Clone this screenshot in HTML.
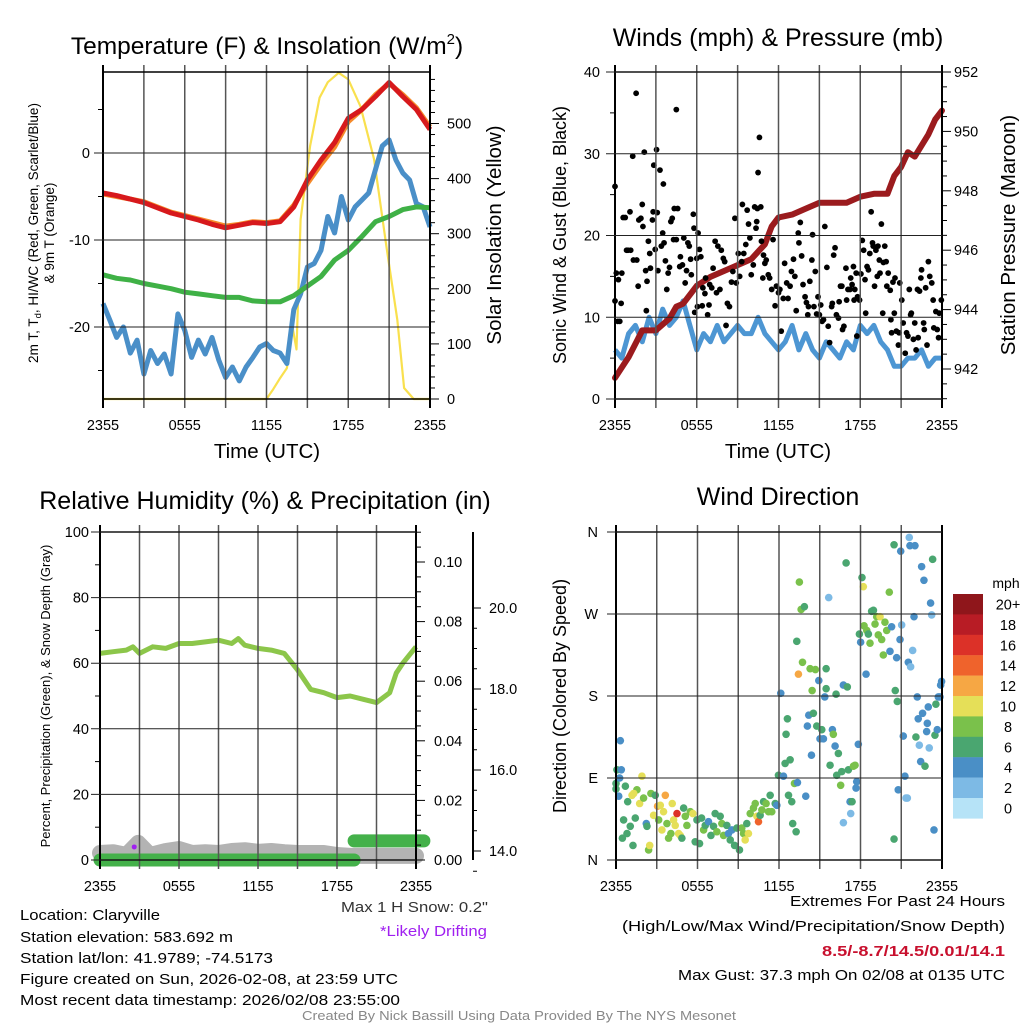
<!DOCTYPE html>
<html><head><meta charset="utf-8">
<style>
html,body{margin:0;padding:0;background:#fff;}
svg{display:block;font-family:"Liberation Sans",sans-serif;}
</style></head>
<body>
<svg id="chart" width="1024" height="1024" viewBox="0 0 1024 1024" xmlns="http://www.w3.org/2000/svg">
<rect x="0" y="0" width="1024" height="1024" fill="#fff"/>
<g id="layer-data"></g>
<g id="layer-axes"></g>
<g id="layer-text">
<text x="267" y="54" font-size="24.5" text-anchor="middle">Temperature (F) &amp; Insolation (W/m<tspan font-size="15" dy="-10">2</tspan><tspan dy="10">)</tspan></text>
<text x="778" y="46" font-size="25" text-anchor="middle">Winds (mph) &amp; Pressure (mb)</text>
<text x="265" y="509" font-size="25" text-anchor="middle">Relative Humidity (%) &amp; Precipitation (in)</text>
<text x="778" y="505" font-size="25" text-anchor="middle">Wind Direction</text>
<text x="267" y="458" font-size="20.5" text-anchor="middle">Time (UTC)</text>
<text x="778" y="458" font-size="20.5" text-anchor="middle">Time (UTC)</text>
<text transform="translate(38,233) rotate(-90)" font-size="13.5" text-anchor="middle">2m T, T<tspan font-size="9.5" dy="3">d</tspan><tspan dy="-3">, HI/WC (Red, Green, Scarlet/Blue)</tspan></text>
<text transform="translate(54,233) rotate(-90)" font-size="13.5" text-anchor="middle">&amp; 9m T (Orange)</text>
<text transform="translate(501,235) rotate(-90)" font-size="20.5" text-anchor="middle">Solar Insolation (Yellow)</text>
<text transform="translate(566,235) rotate(-90)" font-size="18" text-anchor="middle">Sonic Wind &amp; Gust (Blue, Black)</text>
<text transform="translate(1015,235) rotate(-90)" font-size="20.5" text-anchor="middle">Station Pressure (Maroon)</text>
<text transform="translate(50,696) rotate(-90)" font-size="13" text-anchor="middle">Percent, Precipitation (Green), &amp; Snow Depth (Gray)</text>
<text transform="translate(566,696) rotate(-90)" font-size="18" text-anchor="middle">Direction (Colored By Speed)</text>
<text x="1006" y="588" font-size="14" text-anchor="middle">mph</text>
<text x="20" y="920" font-size="15" textLength="140" lengthAdjust="spacingAndGlyphs">Location: Claryville</text>
<text x="20" y="942" font-size="15" textLength="213" lengthAdjust="spacingAndGlyphs">Station elevation: 583.692 m</text>
<text x="20" y="963" font-size="15" textLength="253" lengthAdjust="spacingAndGlyphs">Station lat/lon: 41.9789; -74.5173</text>
<text x="20" y="984" font-size="15" textLength="378" lengthAdjust="spacingAndGlyphs">Figure created on Sun, 2026-02-08, at 23:59 UTC</text>
<text x="20" y="1005" font-size="15" textLength="380" lengthAdjust="spacingAndGlyphs">Most recent data timestamp: 2026/02/08 23:55:00</text>
<text x="341" y="912" font-size="15" fill="#333" textLength="147" lengthAdjust="spacingAndGlyphs">Max 1 H Snow: 0.2"</text>
<text x="380" y="936" font-size="15" fill="#a020f0" textLength="107" lengthAdjust="spacingAndGlyphs">*Likely Drifting</text>
<text x="790" y="906" font-size="15" textLength="215" lengthAdjust="spacingAndGlyphs">Extremes For Past 24 Hours</text>
<text x="622" y="931" font-size="15" textLength="383" lengthAdjust="spacingAndGlyphs">(High/Low/Max Wind/Precipitation/Snow Depth)</text>
<text x="822" y="956" font-size="15" font-weight="bold" fill="#c8102e" textLength="183" lengthAdjust="spacingAndGlyphs">8.5/-8.7/14.5/0.01/14.1</text>
<text x="678" y="980" font-size="15" textLength="327" lengthAdjust="spacingAndGlyphs">Max Gust: 37.3 mph On 02/08 at 0135 UTC</text>
<text x="302" y="1020" font-size="12.5" fill="#888" textLength="434" lengthAdjust="spacingAndGlyphs">Created By Nick Bassill Using Data Provided By The NYS Mesonet</text>
</g>
</svg>
<script>
// ---------- DATA ----------
const hourT = [0,1,2,3,4,5,6,7,8,9,10,11,12,13,14,15,16,17,18,19,20,21,22,23,24];
const tempRed = [-4.6,-4.9,-5.3,-5.7,-6.3,-6.9,-7.3,-7.7,-8.2,-8.6,-8.3,-8.0,-8.1,-7.9,-6.2,-3.1,-0.8,1.2,4.0,5.0,6.5,8.1,6.5,5.0,2.7];
const tempOrange = [-4.7,-5.0,-5.3,-5.6,-6.2,-6.8,-7.2,-7.6,-8.0,-8.4,-8.2,-7.9,-8.0,-7.8,-6.0,-3.5,-1.3,0.7,3.6,5.0,6.7,8.0,6.7,5.2,3.0];
const tempGreen = [-14.0,-14.4,-14.6,-15.0,-15.3,-15.6,-16.0,-16.2,-16.4,-16.6,-16.6,-17.0,-17.1,-17.1,-16.4,-15.3,-14.2,-12.3,-11.2,-9.6,-7.9,-7.3,-6.5,-6.2,-6.3];
const halfT = [0,0.5,1,1.5,2,2.5,3,3.5,4,4.5,5,5.5,6,6.5,7,7.5,8,8.5,9,9.5,10,10.5,11,11.5,12,12.5,13,13.5,14,14.5,15,15.5,16,16.5,17,17.5,18,18.5,19,19.5,20,20.5,21,21.5,22,22.5,23,23.5,24];
const tempBlue = [-17.3,-19.2,-21.2,-20.0,-23.0,-21.5,-25.4,-22.7,-24.2,-23.1,-25.4,-18.5,-20.4,-23.5,-21.5,-23.1,-21.2,-23.8,-25.8,-24.6,-26.2,-24.6,-23.5,-22.3,-21.9,-22.7,-23.0,-24.2,-18.0,-16.2,-13.1,-12.7,-11.2,-7.3,-9.2,-5.0,-7.7,-6.2,-5.4,-4.6,-1.9,0.8,1.5,-0.8,-2.3,-3.1,-5.8,-6.2,-8.5];
const insolT = [0,12.0,12.5,13.0,13.5,13.9,14.2,14.5,15.2,15.9,16.5,17.3,18.0,18.9,19.9,20.8,21.6,22.1,22.8,24];
const insolV = [0,0,18,38,56,132,90,326,459,547,575,592,580,531,435,277,144,20,0,0];

const windBlue = [6,5,8,9,7,10,8,11,9,10,12,9,6,8,7,9,7,8,9,8,8,10,8,7,6,7,9,6,8,6,5,7,6,5,7,6,9,8,9,7,6,4,4,5,5,6,4,5,5];
const pressT = [0,1,2,3,4,4.5,5,6,7,8,9,10,10.5,11,11.5,12,13,14,15,16,17,18,19,20,20.5,21,21.5,22,23,23.5,24];
const pressV = [941.7,942.4,943.3,943.3,943.7,944.1,944.2,944.8,945.1,945.3,945.5,945.7,945.95,946.2,946.8,947.1,947.2,947.4,947.6,947.6,947.6,947.8,947.9,947.9,948.5,948.8,949.3,949.15,949.9,950.4,950.7];
const gustT = [0,0,0.1,0.2,0.35,0.25,0.45,0.5,0.6,0.75,0.85,0.95,1.1,1.15,1.3,1.35,1.55,1.6,1.7,1.75,1.9,2,2.05,2.15,2.25,2.3,2.35,2.45,2.55,2.6,2.75,2.8,2.85,2.95,3.05,3.1,3.15,3.3,3.4,3.5,3.55,3.6,3.7,3.8,3.9,4.0,4.1,4.2,4.35,4.3,4.5,4.5,4.6,4.75,4.8,4.95,5.05,5.15,5.25,5.35,5.45,5.55,5.6,5.75,5.8,5.85,6.0,6.05,6.1,6.2,6.3,6.4,6.45,6.6,6.65,6.8,6.9,6.95,7.1,7.2,7.35,7.45,7.55,7.7,7.8,7.95,8.05,8.15,8.25,8.4,8.55,8.65,8.8,8.9,9.05,9.15,9.3,9.35,9.45,9.6,9.7,9.8,9.9,10.0,10.15,10.25,10.35,10.4,10.45,10.5,10.6,10.7,10.75,10.85,10.9,11.0,11.1,11.25,11.35,11.5,11.6,11.75,11.85,12.0,12.1,12.2,12.35,12.45,12.6,12.7,12.85,12.95,13.1,13.2,13.3,13.45,13.5,13.6,13.7,13.8,13.95,14.05,14.15,14.2,14.3,14.45,14.5,14.6,14.7,14.8,14.9,15.0,15.1,15.2,15.3,15.4,15.55,15.65,15.75,15.9,15.95,16.05,16.15,16.25,16.4,16.45,16.55,16.65,16.7,16.8,16.95,17.0,17.1,17.25,17.3,17.4,17.5,17.55,17.6,17.7,17.75,17.8,17.95,18.05,18.15,18.25,18.35,18.4,18.5,18.6,18.7,18.8,18.9,18.95,19.05,19.15,19.25,19.3,19.4,19.45,19.55,19.65,19.7,19.8,19.9,19.95,20.05,20.2,20.25,20.3,20.4,20.5,20.55,20.65,20.8,20.85,20.9,21.05,21.15,21.3,21.4,21.5,21.6,21.7,21.75,21.9,22.0,22.1,22.2,22.25,22.35,22.45,22.5,22.65,22.7,22.8,22.9,23.0,23.1,23.25,23.35,23.4,23.55,23.65,23.75,23.8,23.95];
const gustV = [26,12,15.4,9.5,9.5,14.6,11.7,15.4,22.2,22.2,18.2,18.2,22.9,18.2,29.7,17,37.4,17,13.8,21.9,22.1,23.8,21.1,30.2,15.7,10.8,14.4,19.3,17.8,16,21.9,22.9,28.6,18.3,30.5,22.8,15.7,28,18.7,20.3,26.3,19.1,16.9,13.4,15.4,16.1,21.7,22.1,23.3,19.5,35.4,19.5,23.3,16.2,17.4,16.4,19.7,14.2,15.7,19.1,18.7,17.1,15.2,22.6,20.9,10.6,17.2,11.3,20.3,18.3,17.4,11.4,13.6,12.9,14.8,10.3,11.5,14,13.6,16,19.3,13,18.7,13.4,18.2,17.2,16.8,9,11.7,11.3,14.3,15.6,22.1,14.2,17.8,15,16.8,23.8,17.8,18.9,23.1,21.4,19.7,15.2,16.4,23.5,20.9,21.7,23.3,27.7,32,23.5,19.3,14.8,17.6,16.6,17,15.2,14.8,13.4,19.5,11.4,13.8,13,13.4,8.3,12.3,16.6,14.2,12.3,13.8,15.6,17.1,15,10.8,20.3,19.1,21.6,17.5,14,12.5,11.8,10.3,11.3,14.4,17,20.1,11.3,15.6,10.4,12.5,10.3,11.5,9.5,9.7,21.1,16.1,8.9,6.9,11.3,11.7,17.6,18.5,10.3,9.9,11.9,13.8,13.8,8.5,8.9,16,12.1,13.4,13.4,14.8,14,16.2,12.1,13.4,15.4,7.7,12.5,12.1,15.3,19.4,18.2,14.6,10.5,16.2,15.8,17.8,22.9,19.1,18.7,13.8,18.2,15,18.7,17,15.4,21.4,10.5,16.7,18.7,16.8,13.8,15.4,13.3,9.7,8.1,14.3,10.5,14.8,8.3,6.6,8.1,14.2,12.1,9.3,5.6,8.1,7.7,13.4,10.3,10.5,7.3,9.3,6,13.4,7.5,13.2,14.8,15.8,9.3,8.5,13.6,6.6,16.8,15,14.2,12.1,8.7,10.7,8.5,7.5,10.5,12.1];

const rhT = [0,1,2,2.5,3,4,5,6,7,8,9,10,10.5,11,12,13,14,15,16,17,18,19,20,21,22,22.5,23,24];
const rhV = [63,63.5,64,65,63,65,64.5,66,66,66.5,67,66,67.5,65.5,64.5,64,63,58,52,51,49.5,50,49,48,51,57,60,65];
const precipT = [0,19.3,19.3,24.6];
const precipV = [0,0,0.0064,0.0064];
const snowT = [0,1,2,2.9,3.8,5,6,7,8,9,10,11,12,13,14,15,16,17,18,19,20,21,22,23,24];
const snowV = [13.95,13.97,13.9,14.2,13.9,14.0,14.05,13.95,13.97,13.95,14.0,14.02,13.98,14.0,13.97,13.95,13.95,13.95,13.9,13.88,13.88,13.88,13.88,13.88,13.88];
const driftT = [2.6];
const driftV = [14.1];

const dirT = [0,0,0.07,0.32,0.39,0.2,0.27,0.69,0.86,0.56,0.47,0.81,1.05,1.25,1.42,1.54,1.3,1.18,1.74,1.91,2.03,2.23,2.28,2.4,2.48,2.57,2.77,2.89,3.06,3.14,3.26,3.38,3.5,3.63,3.75,3.87,4.04,4.14,4.24,4.36,4.49,4.61,4.73,4.85,4.98,5.1,5.22,5.47,5.66,5.83,5.96,6.15,6.3,6.45,6.57,6.81,6.99,7.18,7.3,7.43,7.67,7.79,7.92,8.16,8.28,8.41,8.53,8.73,8.9,9.09,9.26,9.39,9.51,9.63,9.75,9.88,10.12,10.25,10.37,10.49,10.61,10.74,10.86,11.05,11.23,11.35,11.47,11.72,11.84,11.96,12.13,12.33,12.45,12.52,12.62,12.7,12.82,12.94,13.01,13.14,13.26,13.31,13.36,13.43,13.5,13.63,13.73,13.87,13.97,14.09,14.19,14.29,14.39,14.44,14.53,14.68,14.78,14.93,15.02,15.15,15.27,15.37,15.47,15.47,15.66,15.76,15.93,16.0,16.13,16.2,16.25,16.37,16.54,16.62,16.74,16.74,16.94,17.03,17.11,17.23,17.28,17.38,17.48,17.6,17.67,17.72,17.84,17.92,18.01,18.11,18.21,18.26,18.41,18.46,18.58,18.7,18.82,18.95,19.07,19.19,19.31,19.44,19.56,19.68,19.8,19.93,20.12,20.17,20.29,20.47,20.47,20.56,20.66,20.71,20.78,20.91,20.96,21.03,21.15,21.27,21.35,21.45,21.52,21.59,21.69,21.64,21.84,21.94,22.01,22.08,22.18,22.25,22.33,22.43,22.5,22.57,22.67,22.75,22.87,22.92,22.99,23.06,23.16,23.24,23.31,23.41,23.48,23.55,23.65,23.73,23.85,23.9,23.97];
const dirDeg = [84,78,99,131,99,70,90,81,64,44,24,29,37,16,46,77,73,71,62,92,68,40,37,11,16,73,49,71,59,44,60,33,53,71,40,24,29,62,44,38,51,29,27,24,57,48,38,53,51,20,44,18,46,33,38,42,27,37,51,31,48,40,27,38,29,22,33,16,35,11,35,29,22,40,29,51,57,62,48,42,49,55,64,62,53,71,53,62,60,93,183,92,106,138,155,71,110,64,40,84,31,240,85,204,305,275,217,278,70,147,159,210,115,186,161,209,147,197,133,143,133,179,188,210,288,104,143,138,125,182,93,117,82,97,192,41,326,190,99,64,51,64,103,104,79,86,127,248,239,310,300,257,204,252,248,238,273,274,259,267,247,267,242,225,261,252,294,229,256,346,23,186,222,174,77,242,339,258,136,92,68,68,217,354,212,345,230,267,345,135,179,155,126,108,322,161,307,103,141,150,168,123,282,269,330,33,137,171,143,179,179,192,196];
const dirSpd = [7,7,7,5,5,5,5,7,7,7,7,7,7,7,7,9,11,11,11,11,9,5,7,9,11,9,11,7,13,9,11,11,11,13,9,9,9,11,11,11,17,11,11,7,7,9,9,9,11,7,7,7,7,9,7,5,7,7,7,9,7,9,9,7,5,7,5,7,7,7,9,9,11,7,11,9,9,9,11,15,7,9,7,9,9,7,9,7,5,7,5,5,7,7,7,7,7,7,7,9,7,7,5,13,9,9,9,7,5,5,5,9,5,9,7,9,7,5,5,7,5,5,7,7,3,7,5,9,5,7,7,7,9,7,5,3,7,7,7,5,3,7,9,9,5,5,5,7,5,7,11,9,5,9,7,9,7,7,9,9,9,11,9,9,9,9,9,5,5,7,7,7,5,7,5,5,5,3,5,5,3,3,5,3,3,5,3,5,5,7,5,5,3,5,5,5,5,7,5,5,5,3,5,3,7,5,7,7,5,5,5,5,5,7,9];

const cbLabels = ['20+','18','16','14','12','10','8','6','4','2','0'];
const cbColors = ['#8f161b','#b81c25','#dc3128','#ef632c','#f6a744','#e5df58','#7ac14b','#4aa670','#4a8fc6','#7dbae5','#b6e3f7'];

// ---------- HELPERS ----------
const NS = 'http://www.w3.org/2000/svg';
const gData = document.getElementById('layer-data');
const gAxes = document.getElementById('layer-axes');
function mk(parent, tag, attrs, txt){
  const e = document.createElementNS(NS, tag);
  for (const k in attrs) e.setAttribute(k, attrs[k]);
  if (txt !== undefined) e.textContent = txt;
  parent.appendChild(e);
  return e;
}
function xScale(x0, x1){ return t => x0 + t/24*(x1-x0); }
function linScale(v0, p0, v1, p1){ return v => p0 + (v-v0)*(p1-p0)/(v1-v0); }
function pathFrom(ts, vs, xs, ys){
  return ts.map((t,i)=>(i?'L':'M')+xs(t).toFixed(1)+','+ys(vs[i]).toFixed(1)).join(' ');
}
const xLabels = ['2355','0555','1155','1755','2355'];

function frame(name, x0, x1, y0, y1){
  for (let k=0;k<=8;k++){
    const x = x0 + k*(x1-x0)/8;
    const ln = mk(gAxes,'line',{x1:x,y1:y0-7,x2:x,y2:y1+9,stroke:(k==0||k==8)?'#000':'#555','stroke-width':(k==0||k==8)?2:1.5});
    
    
    if (k%2==0){
      const tx = mk(gAxes,'text',{x:x,y:y1+31,'font-size':14.5,'text-anchor':'middle'}, xLabels[k/2]);
      
      
    }
  }
  const fr = mk(gAxes,'rect',{x:x0,y:y0,width:x1-x0,height:y1-y0,fill:'none',stroke:'#000','stroke-width':1.5});
  
  
}
function hGrid(name, x0, x1, y, label, side, lx){
  const ln = mk(gAxes,'line',{x1:x0-9,y1:y,x2:x1,y2:y,stroke:'#222','stroke-width':1});
  
  
  if (label!==null){
    const t = mk(gAxes,'text',{x:lx,y:y+5,'font-size':14.5,'text-anchor':side}, label);
    
    
  }
}
function rightTicks(name, x, y, len, label, lx){
  const ln = mk(gAxes,'line',{x1:x,y1:y,x2:x+len,y2:y,stroke:'#000','stroke-width':1});
  
  
  if (label!==null){
    const t = mk(gAxes,'text',{x:lx,y:y+5,'font-size':14.5,'text-anchor':'start'}, label);
    
    
  }
}

// ---------- PANEL 1: Temperature ----------
(function(){
  const x0=103,x1=430,y0=72,y1=399;
  const xs = xScale(x0,x1);
  const yT = linScale(0,153,-10,240);
  const yI = linScale(0,399,500,123.5);
  frame('temp',x0,x1,y0,y1);
  [0,-10,-20].forEach(v=>hGrid('temp-y',x0,x1,yT(v),String(v),'end',90));
  [5,-5,-15,-25].forEach(v=>{const l=mk(gAxes,'line',{x1:x0-5,y1:yT(v),x2:x0,y2:yT(v),stroke:'#000'});
    
    });
  for (let v=0; v<=580; v+=20){
    const major = v%100==0;
    rightTicks('insolation-axis', x1, yI(v), major?9:5, major?String(v):null, x1+17);
  }
  const pI = mk(gData,'path',{d:pathFrom(insolT,insolV,xs,yI),fill:'none',stroke:'#f9e04e','stroke-width':2.2,'stroke-linejoin':'round'});
  
  
  const pB = mk(gData,'path',{d:pathFrom(halfT,tempBlue,xs,yT),fill:'none',stroke:'#4a8fc8','stroke-width':5,'stroke-linejoin':'round'});
  
  
  const pG = mk(gData,'path',{d:pathFrom(hourT,tempGreen,xs,yT),fill:'none',stroke:'#3fb146','stroke-width':5,'stroke-linejoin':'round'});
  
  
  const pO = mk(gData,'path',{d:pathFrom(hourT,tempOrange,xs,yT),fill:'none',stroke:'#f58a2a','stroke-width':5,'stroke-linejoin':'round'});
  
  
  const pR = mk(gData,'path',{d:pathFrom(hourT,tempRed,xs,yT),fill:'none',stroke:'#d7191c','stroke-width':5,'stroke-linejoin':'round'});
  
  
})();

// ---------- PANEL 2: Winds ----------
(function(){
  const x0=615,x1=942,y0=72,y1=399;
  const xs = xScale(x0,x1);
  const yW = linScale(0,399,40,72);
  const yP = linScale(942,369,952,72);
  frame('wind',x0,x1,y0,y1);
  [0,10,20,30,40].forEach(v=>hGrid('wind-y',x0,x1,yW(v),String(v),'end',600));
  [5,15,25,35].forEach(v=>{const l=mk(gAxes,'line',{x1:x0-5,y1:yW(v),x2:x0,y2:yW(v),stroke:'#000'});
    
    });
  for (let v=941; v<=952.01; v+=0.5){
    const major = Math.abs(v%2)<0.01;
    rightTicks('pressure-axis', x1, yP(v), major?9:5, major?String(v):null, x1+12);
  }
  const pB = mk(gData,'path',{d:pathFrom(halfT,windBlue,xs,yW),fill:'none',stroke:'#4d96d3','stroke-width':5,'stroke-linejoin':'round'});
  
  
  const pP = mk(gData,'path',{d:pathFrom(pressT,pressV,xs,yP),fill:'none',stroke:'#9b1b1e','stroke-width':6,'stroke-linejoin':'round','stroke-linecap':'round'});
  
  
  for (let i=0;i<gustT.length;i++){
    const c = mk(gData,'circle',{cx:xs(gustT[i]),cy:yW(gustV[i]),r:2.9,fill:'#000'});
    
    
  }
})();

// ---------- PANEL 3: RH ----------
(function(){
  const x0=100,x1=416,y0=532,y1=860;
  const xs = xScale(x0,x1);
  const yR = linScale(0,860,100,532);
  const yPr = linScale(0,860,0.1,562);
  const yS = linScale(14,851,20,608);
  frame('rh',x0,x1,y0,y1);
  [0,20,40,60,80,100].forEach(v=>hGrid('rh-y',x0,x1,yR(v),String(v),'end',89));
  [10,30,50,70,90].forEach(v=>{const l=mk(gAxes,'line',{x1:x0-5,y1:yR(v),x2:x0,y2:yR(v),stroke:'#000'});
    
    });
  for (let k=0;k<=22;k++){
    const v = k*0.005, major = k%4==0;
    rightTicks('precip-axis', x1, yPr(v), major?9:5, major?(v.toFixed(2)):null, x1+18);
  }
  const sl = mk(gAxes,'line',{x1:473,y1:532,x2:473,y2:860,stroke:'#000','stroke-width':2});
  
  
  for (let k=0;k<=13;k++){
    const v = 13.5+k*0.5, major = k%4==1;
    rightTicks('snow-axis', 473, yS(v), major?8:4, major?v.toFixed(1):null, 489);
  }
  const pS = mk(gData,'path',{d:pathFrom(snowT,snowV,xs,yS),fill:'none',stroke:'#b3b3b3','stroke-width':16,'stroke-linejoin':'round','stroke-linecap':'round'});
  
  
  const pr1 = mk(gData,'path',{d:pathFrom(precipT.slice(0,2),precipV.slice(0,2),xs,yPr),fill:'none',stroke:'#44b14a','stroke-width':13,'stroke-linecap':'round'});
  
  
  const pr2 = mk(gData,'path',{d:pathFrom(precipT.slice(2),precipV.slice(2),xs,yPr),fill:'none',stroke:'#44b14a','stroke-width':13,'stroke-linecap':'round'});
  
  
  const pRH = mk(gData,'path',{d:pathFrom(rhT,rhV,xs,yR),fill:'none',stroke:'#8cc64a','stroke-width':5,'stroke-linejoin':'round'});
  
  
  for (let i=0;i<driftT.length;i++){
    const c = mk(gData,'circle',{cx:xs(driftT[i]),cy:yS(driftV[i]),r:2.5,fill:'#a020f0'});
    
    
  }
})();

// ---------- PANEL 4: Wind direction ----------
(function(){
  const x0=616,x1=942,y0=532,y1=860;
  const xs = xScale(x0,x1);
  const yD = linScale(0,860,360,532);
  frame('dir',x0,x1,y0,y1);
  const dl = ['N','E','S','W','N'];
  [0,90,180,270,360].forEach((v,i)=>hGrid('dir-y',x0,x1,yD(v),dl[i],'end',598));
  for (let i=0;i<dirT.length;i++){
    const bin = Math.min(10, Math.floor(dirSpd[i]/2));
    const c = mk(gData,'circle',{cx:xs(dirT[i]),cy:yD(dirDeg[i]),r:3.8,fill:cbColors[10-bin]});
    
    
  }
  for (let i=0;i<cbLabels.length;i++){
    const y = 594 + i*20.4;
    const r = mk(gAxes,'rect',{x:953,y:y,width:30,height:20.6,fill:cbColors[i]});
    
    
    const t = mk(gAxes,'text',{x:1008,y:y+15.5,'font-size':14.5,'text-anchor':'middle'}, cbLabels[i]);
    
    
  }
})();
</script>
</body></html>
